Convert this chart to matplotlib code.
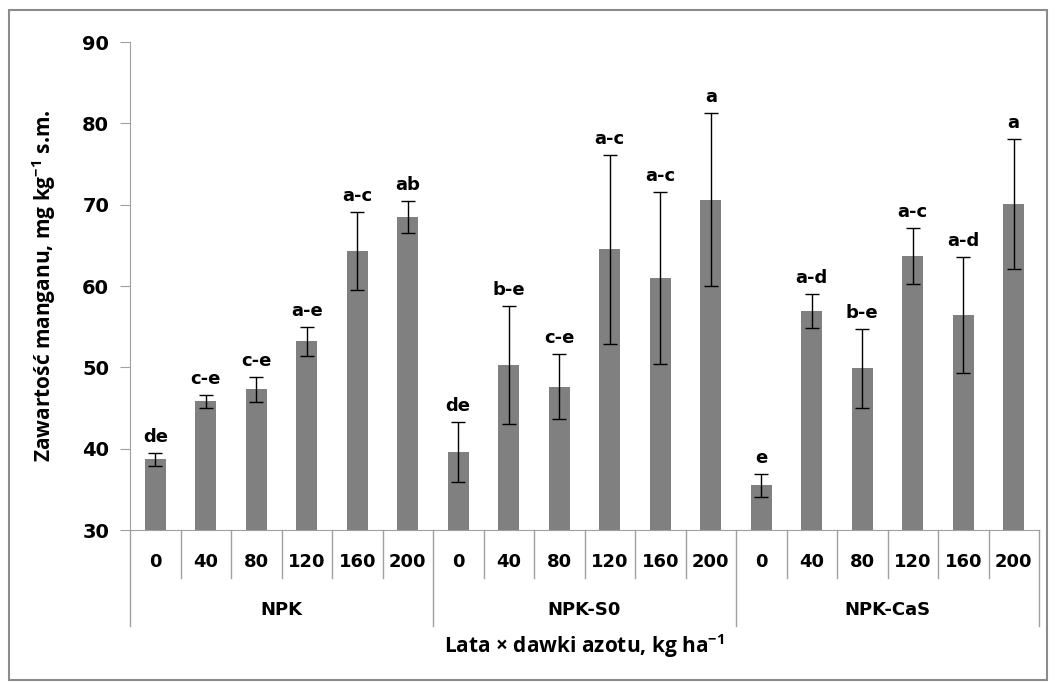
import numpy as np
import matplotlib
matplotlib.use("Agg")
from matplotlib import pyplot as plt
from matplotlib.lines import Line2D
from matplotlib.patches import Rectangle

groups = ['NPK', 'NPK-S0', 'NPK-CaS']
doses = ['0', '40', '80', '120', '160', '200']

npk_mean = [38.7, 45.8, 47.3, 53.2, 64.3, 68.5]
npk_err = [0.8, 0.8, 1.55, 1.8, 4.75, 1.95]
npk_letters = ['de', 'c-e', 'c-e', 'a-e', 'a-c', 'ab']

s0_mean = [39.6, 50.3, 47.6, 64.5, 61.0, 70.6]
s0_err = [3.7, 7.3, 4.0, 11.6, 10.55, 10.65]
s0_letters = ['de', 'b-e', 'c-e', 'a-c', 'a-c', 'a']

cas_mean = [35.5, 56.9, 49.9, 63.7, 56.4, 70.1]
cas_err = [1.4, 2.1, 4.85, 3.45, 7.15, 8.0]
cas_letters = ['e', 'a-d', 'b-e', 'a-c', 'a-d', 'a']

means = npk_mean + s0_mean + cas_mean
errs = npk_err + s0_err + cas_err
letters = npk_letters + s0_letters + cas_letters

plt.rcParams['font.family'] = ['DejaVu Sans']
plt.rcParams['mathtext.fontset'] = 'custom'
plt.rcParams['mathtext.rm'] = 'Open Sans'
plt.rcParams['mathtext.bf'] = 'Open Sans:bold'
label_font = ['Open Sans', 'DejaVu Sans']

fig = plt.figure(figsize=(10.56, 6.86), dpi=100)
ax = fig.add_axes([130 / 1056, 156 / 686, 909 / 1056, 488 / 686])

x = np.arange(len(means))
ax.bar(x, np.array(means) - 30, width=0.42, bottom=30, color='#808080', zorder=2)
ax.errorbar(x, means, yerr=errs, fmt='none', ecolor='black', elinewidth=1.0,
            capsize=5, capthick=1.0, zorder=3)
for xi, m, e, lab in zip(x, means, errs, letters):
    ax.annotate(lab, (xi, m + e), xytext=(0, 5), textcoords='offset points',
                ha='center', va='bottom', fontsize=13, fontweight='bold')

ax.set_xlim(-0.5, len(means) - 0.5)
ax.set_ylim(30, 90)
ax.set_yticks(range(30, 91, 10))
ax.tick_params(axis='y', direction='out', length=7, color='#a0a0a0', labelsize=14, pad=8)
for t in ax.get_yticklabels():
    t.set_fontweight('bold')
ax.set_xticks([])
for s in ['top', 'right']:
    ax.spines[s].set_visible(False)
ax.spines['left'].set_color('#a0a0a0')
ax.spines['bottom'].set_color('#a0a0a0')

trans = ax.get_xaxis_transform()
# category labels and separators
for i in range(len(means)):
    ax.text(i, -0.065, doses[i % 6], transform=trans, ha='center', va='center',
            fontsize=13, fontweight='bold')
for b in np.arange(-0.5, len(means), 1.0):
    depth = -0.197 if int(b + 0.5) % 6 == 0 else -0.098
    ax.add_line(Line2D([b, b], [0, depth], transform=trans, color='#a0a0a0',
                       lw=1.0, clip_on=False))
for g, name in enumerate(groups):
    ax.text(g * 6 + 2.5, -0.164, name, transform=trans, ha='center', va='center',
            fontsize=13, fontweight='bold')

ax.text(0.5, -0.238, 'Lata × dawki azotu, kg ha$^{\\mathbf{-1}}$', transform=ax.transAxes,
        ha='center', va='center', fontsize=15, fontweight='bold', family=label_font)
ax.set_ylabel('Zawartość manganu, mg kg$^{\\mathbf{-1}}$ s.m.', fontsize=15,
              fontweight='bold', family=label_font)
ax.yaxis.set_label_coords(-0.079, 0.5)

fig.patches.append(Rectangle((9 / 1056, 6 / 686), 1038 / 1056, 670 / 686,
                             transform=fig.transFigure, fill=False,
                             edgecolor='#8c8c8c', lw=1.5))

fig.savefig('out.png', dpi=100)
